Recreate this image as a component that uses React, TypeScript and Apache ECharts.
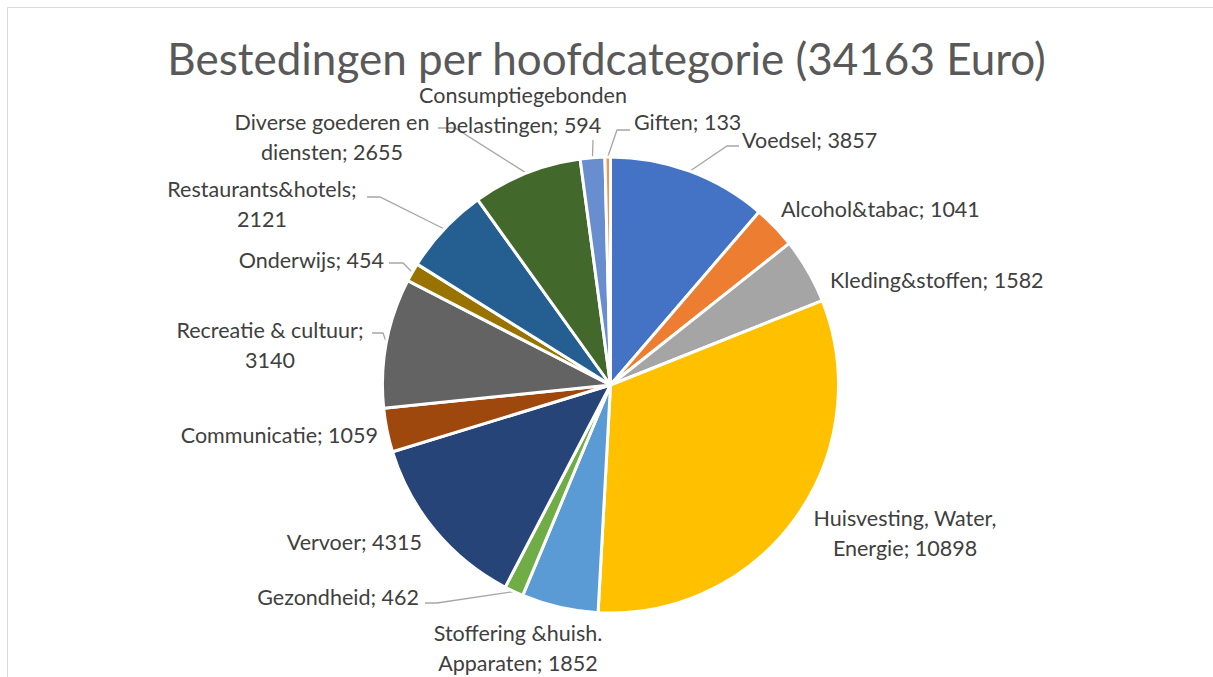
import React, { useEffect, useRef } from "react";
import * as echarts from "echarts";

const titleText = "Bestedingen per hoofdcategorie (34163 Euro)";

const categories = [
  "Voedsel",
  "Alcohol&tabac",
  "Kleding&stoffen",
  "Huisvesting, Water, Energie",
  "Stoffering &huish. Apparaten",
  "Gezondheid",
  "Vervoer",
  "Communicatie",
  "Recreatie & cultuur",
  "Onderwijs",
  "Restaurants&hotels",
  "Diverse goederen en diensten",
  "Consumptiegebonden belastingen",
  "Giften",
];

const values = [3857, 1041, 1582, 10898, 1852, 462, 4315, 1059, 3140, 454, 2121, 2655, 594, 133];

const colors = [
  "#4472C4", "#ED7D31", "#A5A5A5", "#FFC000", "#5B9BD5", "#70AD47", "#264478",
  "#9E480E", "#636363", "#997300", "#255E91", "#43682B", "#698ED0", "#F1975A",
];

// number of words on the first label line (null = single line)
const labelBreaks: (number | null)[] = [null, null, null, 2, 2, null, null, null, 3, null, 1, 3, 1, null];

// label placement (layout only)
type LP = { x: number; y: number; align: string; line?: number[][] };
const labelPlacement: LP[] = [
  { x: 742, y: 140, align: "left", line: [[727, 146], [739, 146]] },
  { x: 781, y: 209, align: "left" },
  { x: 830, y: 280, align: "left" },
  { x: 905, y: 533, align: "center" },
  { x: 518, y: 648, align: "center" },
  { x: 419, y: 597, align: "right", line: [[437, 603], [425, 603]] },
  { x: 422, y: 542, align: "right" },
  { x: 378, y: 435, align: "right" },
  { x: 270, y: 345, align: "center", line: [[383, 333], [372, 333]] },
  { x: 384, y: 260, align: "right", line: [[403, 263], [389, 263]] },
  { x: 262, y: 204, align: "center", line: [[380, 197], [367, 197]] },
  { x: 332, y: 137, align: "center", line: [[455, 128], [438, 128]] },
  { x: 523, y: 110, align: "center", line: [[593, 140]] },
  { x: 634, y: 122, align: "left", line: [[617, 130], [630, 130]] },
];

const FONT = "Lato, 'Open Sans', sans-serif";

function labelText(i: number): string {
  const words = `${categories[i]}; ${values[i]}`.split(" ");
  const b = labelBreaks[i];
  if (b == null) return words.join(" ");
  return words.slice(0, b).join(" ") + "\n" + words.slice(b).join(" ");
}

export default function App() {
  const ref = useRef<HTMLDivElement>(null);
  useEffect(() => {
    if (!ref.current) return;
    const chart = echarts.init(ref.current, undefined, { renderer: "svg" });
    chart.setOption({
      animation: false,
      backgroundColor: "#ffffff",
      title: {
        text: titleText,
        left: "center",
        top: 37,
        padding: 0,
        textStyle: {
          fontFamily: FONT,
          fontSize: 44,
          lineHeight: 42,
          fontWeight: "normal",
          color: "#595959",
        },
      },
      graphic: [
        {
          type: "rect",
          shape: { x: 7.5, y: 7.5, width: 1240, height: 720 },
          style: { fill: "none", stroke: "#d9d9d9", lineWidth: 1 },
          silent: true,
        },
      ],
      series: [
        {
          type: "pie",
          center: [610.5, 385],
          radius: 228,
          startAngle: 90,
          clockwise: true,
          avoidLabelOverlap: false,
          itemStyle: { borderColor: "#ffffff", borderWidth: 3 },
          label: {
            show: true,
            position: "outside",
            fontFamily: FONT,
            fontSize: 21.5,
            lineHeight: 30,
            color: "#404040",
            formatter: (p: any) => labelText(p.dataIndex),
          },
          labelLine: { show: true, lineStyle: { color: "#a6a6a6", width: 1.3 } },
          labelLayout: (params: any) => {
            const lp = labelPlacement[params.dataIndex];
            const out: any = { x: lp.x, y: lp.y, align: lp.align, verticalAlign: "middle" };
            if (lp.line && params.labelLinePoints && params.labelLinePoints.length) {
              out.labelLinePoints = [params.labelLinePoints[0], ...lp.line];
            }
            return out;
          },
          data: categories.map((c, i) => ({
            name: c,
            value: values[i],
            itemStyle: { color: colors[i] },
            labelLine: { show: !!labelPlacement[i].line },
          })),
        },
      ],
    });
    return () => chart.dispose();
  }, []);
  return (
    <div
      ref={ref}
      style={{ position: "fixed", left: 0, top: 0, width: 1213, height: 677 }}
    />
  );
}
